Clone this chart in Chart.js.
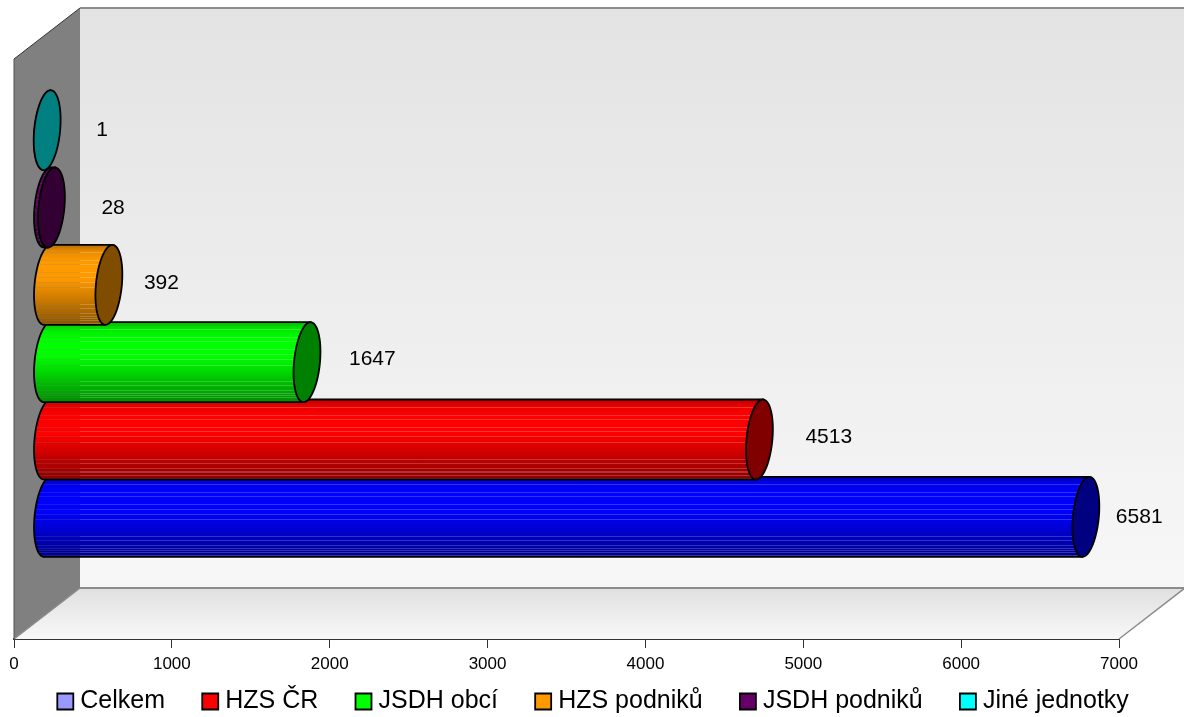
<!DOCTYPE html>
<html>
<head>
<meta charset="utf-8">
<title>Jednotky</title>
<script src="https://cdn.jsdelivr.net/npm/chart.js@4"></script>
<style>
html, body { margin: 0; padding: 0; background: #fff; }
#wrap { width: 1184px; height: 717px; }
</style>
</head>
<body>
<div id="wrap"><canvas id="myChart" width="1184" height="717"></canvas></div>
<script>
const categories = ['Jednotky'];
const seriesNames = ['Celkem', 'HZS ČR', 'JSDH obcí', 'HZS podniků', 'JSDH podniků', 'Jiné jednotky'];
const seriesValues = [6581, 4513, 1647, 392, 28, 1];
const barColors = ['#0000ff', '#ff0000', '#00ff00', '#ff9900', '#660066', '#00ffff'];
const legendColors = ['#9999ff', '#ff0000', '#00ff00', '#ff9900', '#660066', '#00ffff'];

// small per label nudges, the original labels do not sit on a regular offset
const labelNudgeX = [30, 46, 42, 35, 50, 49];
const labelNudgeY = [0, -2, -3, -2, 1, 0];

// fake 3D box
const depthX = 66;
const depthY = 51;
const tilt = 3.5;
// light seams in the bar gradient, as fractions of the bar height
const seams = [.09, .19, .24, .34, .4, .46, .53, .74, .79, .85, .89, .91, .94, .98];

const fontName = '"Liberation Sans", Arial, sans-serif';

function shade(hex, f) {
    const n = parseInt(hex.slice(1), 16);
    const r = Math.round((n >> 16 & 255) * f);
    const g = Math.round((n >> 8 & 255) * f);
    const b = Math.round((n & 255) * f);
    return `rgb(${r},${g},${b})`;
}

function drawWalls(chart) {
    const ctx = chart.ctx;
    const a = chart.chartArea;
    const wallX = a.left + depthX;
    const wallBottom = a.bottom - depthY;
    const wallTop = a.top - depthY;
    const farRight = a.right + depthX;

    ctx.save();
    // back wall
    let g = ctx.createLinearGradient(0, wallTop, 0, wallBottom);
    g.addColorStop(0, '#e3e3e3');
    g.addColorStop(1, '#f7f7f7');
    ctx.fillStyle = g;
    ctx.fillRect(wallX, wallTop, farRight - wallX, wallBottom - wallTop);

    // floor
    g = ctx.createLinearGradient(0, wallBottom, 0, a.bottom);
    g.addColorStop(0, '#e0e0e0');
    g.addColorStop(1, '#f8f8f8');
    ctx.fillStyle = g;
    ctx.beginPath();
    ctx.moveTo(a.left, a.bottom);
    ctx.lineTo(wallX, wallBottom);
    ctx.lineTo(farRight, wallBottom);
    ctx.lineTo(a.right, a.bottom);
    ctx.closePath();
    ctx.fill();

    // left wall
    ctx.fillStyle = '#808080';
    ctx.beginPath();
    ctx.moveTo(a.left, a.top);
    ctx.lineTo(wallX, wallTop);
    ctx.lineTo(wallX, wallBottom);
    ctx.lineTo(a.left, a.bottom);
    ctx.closePath();
    ctx.fill();

    // edges
    ctx.strokeStyle = '#8c8c8c';
    ctx.lineWidth = 2;
    ctx.beginPath();
    ctx.moveTo(wallX, wallTop);
    ctx.lineTo(farRight, wallTop);
    ctx.moveTo(wallX, wallBottom);
    ctx.lineTo(farRight, wallBottom);
    ctx.stroke();
    ctx.lineWidth = 1.5;
    ctx.beginPath();
    ctx.moveTo(a.right, a.bottom);
    ctx.lineTo(farRight, wallBottom);
    ctx.moveTo(a.left, a.bottom);
    ctx.lineTo(wallX, wallBottom);
    ctx.stroke();
    ctx.strokeStyle = '#333';
    ctx.lineWidth = 1;
    ctx.beginPath();
    ctx.moveTo(a.left, a.top);
    ctx.lineTo(wallX, wallTop);
    ctx.stroke();
    ctx.strokeStyle = '#555';
    ctx.beginPath();
    ctx.moveTo(a.left, a.top);
    ctx.lineTo(a.left, a.bottom);
    ctx.stroke();
    ctx.restore();
}

// adds part of the slanted ellipse to a path
function addArc(path, cx, cy, rx, ry, from, to) {
    const steps = 48;
    for (let s = 0; s <= steps; s++) {
        const t = from + (to - from) * s / steps;
        path.lineTo(cx + rx * Math.cos(t) - tilt * Math.sin(t), cy + ry * Math.sin(t));
    }
}

function drawCylinder(chart, bar, color) {
    const ctx = chart.ctx;
    const a = chart.chartArea;
    const wallX = a.left + depthX;
    const cy = bar.y - depthY / 2;
    const ry = bar.height / 2;
    const rx = 13;
    const x0 = bar.base + depthX / 2;
    const x1 = bar.x + depthX / 2;

    ctx.save();
    const g = ctx.createLinearGradient(0, cy - ry, 0, cy + ry);
    g.addColorStop(0, shade(color, .72));
    g.addColorStop(.08, shade(color, .9));
    g.addColorStop(.2, color);
    g.addColorStop(.42, color);
    g.addColorStop(1, shade(color, .55));

    // body with the rounded end at the wall
    const body = new Path2D();
    body.moveTo(x1 + tilt, cy - ry);
    addArc(body, x0, cy, rx, ry, -Math.PI / 2, -Math.PI * 1.5);
    body.lineTo(x1 - tilt, cy + ry);
    body.closePath();
    ctx.fillStyle = g;
    ctx.fill(body);

    // seams let the background through a little
    ctx.save();
    ctx.clip(body);
    ctx.lineWidth = 1;
    seams.forEach(f => {
        const y = Math.round(cy - ry + f * bar.height) + .5;
        ctx.strokeStyle = 'rgba(128,128,128,.2)';
        ctx.beginPath();
        ctx.moveTo(x0 - rx - tilt, y);
        ctx.lineTo(wallX, y);
        ctx.stroke();
        ctx.strokeStyle = 'rgba(255,255,255,.2)';
        ctx.beginPath();
        ctx.moveTo(wallX, y);
        ctx.lineTo(x1, y);
        ctx.stroke();
    });
    ctx.restore();

    ctx.strokeStyle = '#000';
    ctx.lineWidth = 1.8;
    ctx.stroke(body);

    // end cap
    const cap = new Path2D();
    addArc(cap, x1, cy, rx, ry, 0, Math.PI * 2);
    cap.closePath();
    ctx.fillStyle = shade(color, .5);
    ctx.fill(cap);
    ctx.stroke(cap);
    ctx.restore();
}

const cylinders = {
    id: 'cylinders',
    beforeLayout(chart) {
        // legend padding is the gap between items, do not let it eat the height
        const legend = chart.legend;
        if (legend && !legend._fitPatched) {
            const fit = legend.fit;
            legend.fit = function () {
                this.maxWidth = 1400;
                fit.call(this);
                this.height = 29;
            };
            legend._fitPatched = true;
        }
    },
    afterLayout(chart) {
        const legend = chart.legend;
        const pad = legend.options.labels.padding;
        legend.top = 689 - pad;
        legend.left = 62.8 - pad;
        legend.right = chart.width;
    },
    beforeDatasetsDraw(chart) {
        const ctx = chart.ctx;
        const barOf = i => chart.getDatasetMeta(seriesNames.length - 1 - i).data[0];
        drawWalls(chart);
        // first series sits at the bottom, each next one is painted over it
        seriesValues.forEach((v, i) => {
            drawCylinder(chart, barOf(i), barColors[i]);
        });
        ctx.save();
        ctx.fillStyle = '#000';
        ctx.font = '21px ' + fontName;
        ctx.textAlign = 'left';
        ctx.textBaseline = 'middle';
        seriesValues.forEach((v, i) => {
            const bar = barOf(i);
            ctx.fillText(String(v), bar.x + depthX / 2 + labelNudgeX[i], bar.y - depthY / 2 + labelNudgeY[i]);
        });
        ctx.restore();
        return false;
    }
};

// chart.js stacks grouped bars from the top, so the datasets go in backwards
// and the legend turns them around again
const datasets = seriesNames.map((name, i) => ({
    label: name,
    data: [seriesValues[i]],
    backgroundColor: legendColors[i],
    borderColor: '#000',
    borderWidth: 1.8,
})).reverse();

const ctx = document.getElementById('myChart').getContext('2d');
new Chart(ctx, {
    type: 'bar',
    plugins: [cylinders],
    data: {
        labels: categories,
        datasets: datasets,
    },
    options: {
        indexAxis: 'y',
        responsive: false,
        animation: false,
        categoryPercentage: .8,
        barPercentage: 1.035,
        layout: { padding: { top: 59, left: 14, right: 65, bottom: 0 } },
        scales: {
            x: {
                type: 'linear',
                min: 0,
                max: 7000,
                afterFit: scale => { scale.height = 49; },
                border: { color: '#333', width: 2 },
                grid: { drawOnChartArea: false, drawTicks: true, tickLength: 9, color: '#333' },
                ticks: {
                    stepSize: 1000,
                    maxRotation: 0,
                    padding: 6,
                    color: '#000',
                    format: { useGrouping: false },
                    font: { family: fontName, size: 17 },
                },
            },
            y: {
                type: 'category',
                display: false,
            },
        },
        plugins: {
            title: { display: false },
            tooltip: { enabled: false },
            legend: {
                position: 'bottom',
                align: 'start',
                reverse: true,
                labels: {
                    usePointStyle: true,
                    pointStyle: 'rect',
                    boxWidth: 5,
                    boxHeight: 16,
                    padding: 42.7,
                    color: '#000',
                    font: { family: fontName, size: 25 },
                },
            },
        },
    },
});
</script>
</body>
</html>
